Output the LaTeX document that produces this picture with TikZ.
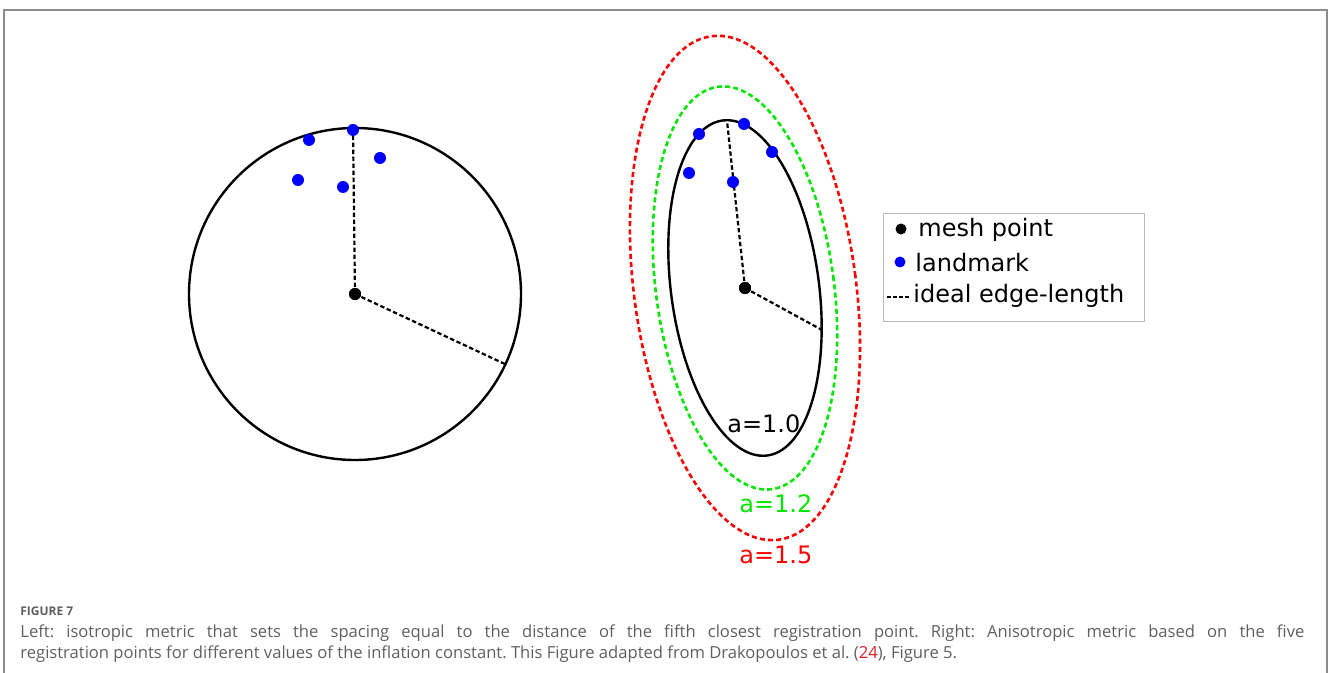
\documentclass[tikz,border=0pt]{standalone}
\usepackage{fontspec}
\setmainfont{DejaVu Sans}
\newfontfamily\capfont{Open Sans}
\definecolor{mgreen}{RGB}{0,230,0}
\definecolor{mred}{RGB}{255,0,0}
\definecolor{mblue}{RGB}{0,0,255}
\definecolor{capgray}{RGB}{95,95,95}
\definecolor{refred}{RGB}{220,30,40}
\begin{document}
\begin{tikzpicture}[x=0.5pt,y=-0.5pt,
  edge/.style={draw=black,line width=1.1pt,dash pattern=on 2.2pt off 1.3pt},
  metric/.style={draw=black,line width=1.2pt},
  inflated/.style={line width=1.3pt,dash pattern=on 2.5pt off 1.6pt},
  landmark/.style={circle,fill=mblue,inner sep=0pt,minimum size=6pt},
  meshpt/.style={circle,fill=black,inner sep=0pt,minimum size=6pt},
  lbl/.style={font=\fontsize{12}{14}\selectfont,inner sep=0pt,anchor=base west},
  frame/.style={draw=gray!90,line width=0.8pt}]
\useasboundingbox (0,0) rectangle (1328,673);
% frame
\draw[frame] (4,673) -- (4,10) -- (1327,10) -- (1327,673);

% ---------- left: isotropic ----------
\node[meshpt] (mL) at (355,294) {};
\coordinate (cL) at (355,294);
\draw[metric] (cL) circle [radius=166];
\coordinate (tL) at (353,129);
\coordinate (rL) at (507,365);
\draw[edge] (mL.center) -- (tL);
\draw[edge] (mL.center) -- (rL);
\node[meshpt] at (355,294) {};
\node[landmark] (l1) at (309,140) {};
\node[landmark] (l2) at (353,130) {};
\node[landmark] (l3) at (380,158) {};
\node[landmark] (l4) at (298,180) {};
\node[landmark] (l5) at (343,187) {};

% ---------- right: anisotropic ----------
\coordinate (cR) at (745,288);
\draw[inflated,mred,rotate around={7.6:(cR)}] (cR) ellipse [x radius=111, y radius=254];
\draw[inflated,mgreen,rotate around={7.6:(cR)}] (cR) ellipse [x radius=89, y radius=203];
\draw[metric,rotate around={7.6:(cR)}] (cR) ellipse [x radius=74, y radius=169];
\node[meshpt] (mR) at (745,288) {};
\coordinate (tR) at (727,121);
\coordinate (rR) at (822,330);
\draw[edge] (mR.center) -- (tR);
\draw[edge] (mR.center) -- (rR);
\node[meshpt] at (745,288) {};
\node[landmark] (r1) at (699,134) {};
\node[landmark] (r2) at (744,124) {};
\node[landmark] (r3) at (772,152) {};
\node[landmark] (r4) at (689,173) {};
\node[landmark] (r5) at (733,182) {};

\node[lbl] (a10) at (727,433) {a=1.0};
\node[lbl,text=mgreen] (a12) at (739,512) {a=1.2};
\node[lbl,text=mred] (a15) at (739,563) {a=1.5};

% ---------- legend ----------
\node[draw=gray!55,line width=0.6pt,minimum width=130.5pt,minimum height=54pt,anchor=north west,inner sep=0pt] (leg) at (883,213) {};
\node[meshpt,minimum size=5.5pt] (lgm) at (901,229) {};
\node[lbl] (lgmt) at (918,237) {mesh point};
\node[landmark,minimum size=5.5pt] (lgl) at (900,262) {};
\node[lbl] (lglt) at (915,272) {landmark};
\coordinate (lgd1) at (887,297);
\coordinate (lgd2) at (909,297);
\draw[line width=0.6pt,dash pattern=on 1.8pt off 1.2pt] (lgd1) -- (lgd2);
\node[lbl] (lget) at (913,303) {ideal edge-length};

% ---------- caption ----------
\node[anchor=base west,inner sep=0pt,text=capgray,font=\capfont\bfseries\fontsize{6}{7}\selectfont] (fig) at (20,615) {FIGURE 7};
\node[anchor=base west,inner sep=0pt,text=capgray,font=\capfont\fontsize{8.3}{10.5}\selectfont] (cap) at (20,637)
{\parbox[t]{642pt}{\frenchspacing Left: isotropic metric that sets the spacing equal to the distance of the fifth closest registration point. Right: Anisotropic metric based on the five\linebreak registration points for different values of the inflation constant. This Figure adapted from Drakopoulos et al. (\textcolor{refred}{24}), Figure 5.}};
\end{tikzpicture}
\end{document}
